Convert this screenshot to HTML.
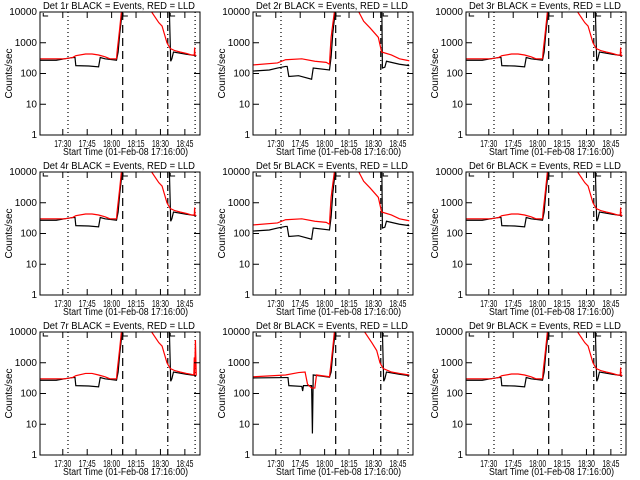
<!DOCTYPE html>
<html><head><meta charset="utf-8"><style>
body{margin:0;background:#fff}
svg{display:block}
text{font-family:"Liberation Sans",sans-serif;font-size:10px;fill:#000}
</style></head><body>
<svg id="c" width="640" height="480"></svg>
<script>
// Shared time axis: minutes after 17:16:00
const tickLabels=["17:30","17:45","18:00","18:15","18:30","18:45"];
const tickMinutes=[14,29,44,59,74,89];
const yTickLabels=["1","10","100","1000","10000"];
const yTickValues=[1,10,100,1000,10000];
const markerMinutes=[17.2,50.8,78.5,95.3];
const markerStyles=["1,3","8,5","6,3,1,3","1,3"];
const titles=["Det 1r","Det 2r","Det 3r","Det 4r","Det 5r","Det 6r","Det 7r","Det 8r","Det 9r"];

const redTimesA=[0,15,20,22,28,32,36,40,43,47,47.5,48,49,50,51,67,68.6,73,75,78,80,83,86,90,93,94.8,95,95.2,96];
const redValsA=[300,300,330,380,430,430,400,350,300,300,600,1000,3000,10000,1e5,1e5,10000,4500,3500,1000,650,550,500,450,400,400,700,400,380];
const blackTimesA=[0,10,15,20,21.5,22,30,36,37,40,47,48,49,50.5,51,79,80.3,81,82,90,96];
const blackValsA=[270,270,300,330,330,180,175,165,330,300,270,500,2000,10000,1e5,1e5,250,300,500,420,380];

const redTimesB=[0,15,20,30,38,45,47,47.5,48,49,50,51,64,65,68,72,77,79,85,90,96];
const redValsB=[190,220,280,300,250,230,200,600,1500,4000,10000,1e5,1e5,10000,5000,3000,1500,500,400,300,260];
const blackTimesB=[0,10,15,20,21,22,28,36,37,47,48,49,50.5,51,79,79.5,81,82,90,96];
const blackValsB=[120,130,150,170,170,80,85,65,150,130,350,2000,10000,1e5,1e5,150,160,250,200,180];

const redTimesC=[0,15,20,22,28,32,36,40,43,47,47.5,48,49,50,51,67,68.6,73,75,78,80,83,86,90,93,94.5,94.8,95,95.5,96];
const redValsC=[300,300,330,380,450,450,400,350,300,300,600,1000,3000,10000,1e5,1e5,10000,4500,3500,1000,650,550,500,450,420,400,1500,400,5500,380];

const redTimesD=[0,20,28,32,33.5,36,38,39,47,47.5,48,49,50,51,67,68.6,73,76,78,80,85,90,96];
const redValsD=[350,400,480,500,200,150,150,400,350,600,1000,3000,10000,1e5,1e5,10000,4500,2500,1000,650,500,450,400];
const blackTimesD=[0,20,21.5,22,30,30.5,31,36,36.5,37,47,48,49,50.5,51,79,80.3,81,82,90,96];
const blackValsD=[320,330,330,180,170,120,180,180,5,400,340,500,2000,10000,1e5,1e5,250,300,500,420,380];

const panelRed=[[redTimesA,redValsA],[redTimesB,redValsB],[redTimesA,redValsA],[redTimesA,redValsA],[redTimesB,redValsB],[redTimesA,redValsA],[redTimesC,redValsC],[redTimesD,redValsD],[redTimesA,redValsA]];
const panelBlack=[[blackTimesA,blackValsA],[blackTimesB,blackValsB],[blackTimesA,blackValsA],[blackTimesA,blackValsA],[blackTimesB,blackValsB],[blackTimesA,blackValsA],[blackTimesA,blackValsA],[blackTimesD,blackValsD],[blackTimesA,blackValsA]];

const NS="http://www.w3.org/2000/svg";
const svg=document.getElementById('c');
function mk(tag,attrs,parent){const e=document.createElementNS(NS,tag);for(const k in attrs)e.setAttribute(k,attrs[k]);(parent||svg).appendChild(e);return e;}

for(let i=0;i<9;i++){
  const col=i%3,row=Math.floor(i/3);
  const L=40+col*213,R=L+160,T=12+row*160,B=T+123;
  const xs=m=>L+m*(160/98.3);
  const ys=v=>B-Math.log10(v)*(123/4);
  const g=mk('g',{});
  
  
  const cp=mk('clipPath',{id:'cp'+i},g);
  mk('rect',{x:L,y:T,width:R-L,height:B-T},cp);
  markerMinutes.forEach((m,j)=>{
    const ln=mk('line',{x1:xs(m),x2:xs(m),y1:T,y2:B,stroke:'#000','stroke-width':1.2,'stroke-dasharray':markerStyles[j]},g);
    
    
  });
  const [bt,bv]=panelBlack[i];
  const bp=mk('polyline',{points:bt.map((t,k)=>xs(t)+','+ys(bv[k])).join(' '),fill:'none',stroke:'#000','stroke-width':1.2,'clip-path':'url(#cp'+i+')'},g);
  
  
  const [rt,rv]=panelRed[i];
  const rp=mk('polyline',{points:rt.map((t,k)=>xs(t)+','+ys(rv[k])).join(' '),fill:'none',stroke:'#f00','stroke-width':1.2,'clip-path':'url(#cp'+i+')'},g);
  
  
  [[2,5],[51,54],[80,83]].forEach(([a,b])=>{
    mk('polyline',{points:`${xs(a)},${T+1} ${xs(a)},${T+4} ${xs(b)},${T+4}`,fill:'none',stroke:'#000','stroke-width':1},g);
  });
  const bx=mk('rect',{x:L,y:T,width:R-L,height:B-T,fill:'none',stroke:'#000','stroke-width':1},g);
  
  
  yTickValues.forEach((v,k)=>{
    const y=ys(v);
    mk('line',{x1:L,x2:L+6,y1:y,y2:y,stroke:'#000'},g);
    mk('line',{x1:R,x2:R-6,y1:y,y2:y,stroke:'#000'},g);
    const t=mk('text',{x:L-3,y:y+3,'text-anchor':'end','font-size':8},g);t.textContent=yTickLabels[k];
    
    
  });
  tickMinutes.forEach((m,k)=>{
    const x=xs(m);
    mk('line',{x1:x,x2:x,y1:B,y2:B-6,stroke:'#000'},g);
    mk('line',{x1:x,x2:x,y1:T,y2:T+6,stroke:'#000'},g);
    const t=mk('text',{x:x-8.5,y:B+12,'font-size':8,textLength:17,lengthAdjust:'spacingAndGlyphs'},g);t.textContent=tickLabels[k];
    
    
  });
  const tt=mk('text',{x:L+3,y:T-3,'font-size':9.5,textLength:152,lengthAdjust:'spacingAndGlyphs'},g);
  tt.textContent=titles[i]+" BLACK = Events, RED = LLD";
  
  
  const xt=mk('text',{x:L+23,y:B+20,'font-size':8.5,textLength:125,lengthAdjust:'spacingAndGlyphs'},g);
  xt.textContent="Start Time (01-Feb-08 17:16:00)";
  
  
  const yt=mk('text',{x:0,y:0,'text-anchor':'middle','font-size':7.5,transform:`translate(${L-28},${(T+B)/2}) rotate(-90)`},g);
  yt.textContent="Counts/sec";
  
  
}
</script>
</body></html>
